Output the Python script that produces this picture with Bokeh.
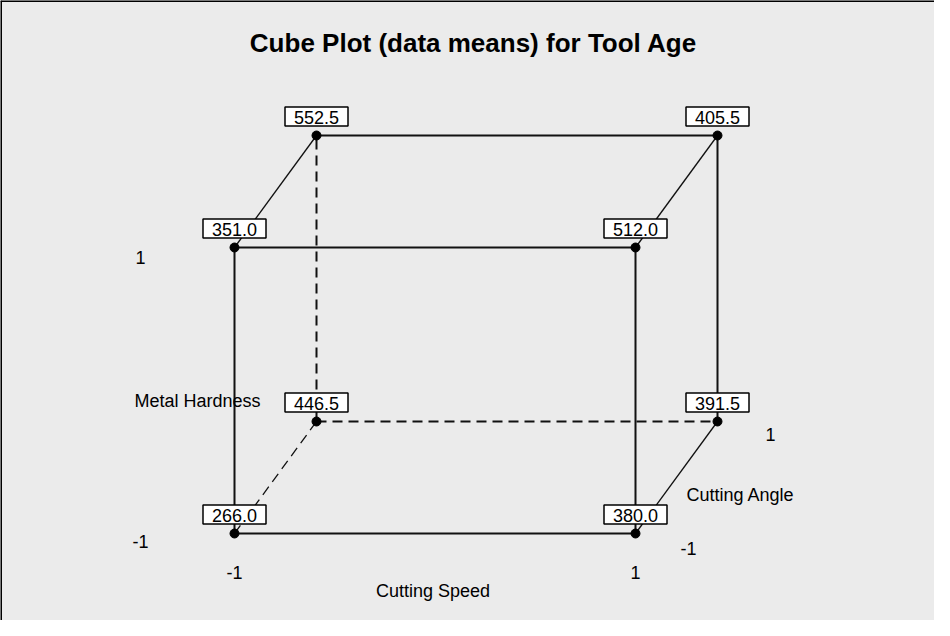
from bokeh.plotting import figure
from bokeh.models import Range1d, Span, Label, ColumnDataSource
from bokeh.core.properties import value
from bokeh.embed import file_html
from bokeh.resources import INLINE

# ---- data ----
title_text = "Cube Plot (data means) for Tool Age"
factor_speed = "Cutting Speed"
factor_angle = "Cutting Angle"
factor_hardness = "Metal Hardness"
levels = [-1, 1]
level_labels = ["-1", "1"]

speed = [-1, 1, -1, 1, -1, 1, -1, 1]
angle = [-1, -1, 1, 1, -1, -1, 1, 1]
hardness = [-1, -1, -1, -1, 1, 1, 1, 1]
means = [266.0, 380.0, 446.5, 391.5, 351.0, 512.0, 552.5, 405.5]

# ---- oblique projection (layout) ----
PX_X = 200.5   # screen px per projected x unit
PX_Y = 143.0   # screen px per projected y unit
KX = 41 / PX_X
KY = 56 / PX_Y


def proj(s, a, h):
    return s + KX * a, h + KY * a


W, H = 934, 620
x0 = (8 - 483.5) / PX_X
x1 = (942 - 483.5) / PX_X
y1 = (342 - 8) / PX_Y
y0 = (342 - 628) / PX_Y

BG = "#ebebeb"
FONT_NAME = "Liberation Sans"
FONT = value(FONT_NAME)
FS = "18px"

p = figure(width=W, height=H, x_range=Range1d(x0, x1), y_range=Range1d(y0, y1),
           output_backend="svg", toolbar_location=None, min_border=0,
           background_fill_color=BG, border_fill_color=BG)
p.axis.visible = False
p.grid.visible = False
p.outline_line_color = None

# ---- edges ----
hidden = (-1, 1, -1)
pts = list(zip(speed, angle, hardness))
for i in range(len(pts)):
    for j in range(i + 1, len(pts)):
        a_, b_ = pts[i], pts[j]
        diff = sum(1 for u, v in zip(a_, b_) if u != v)
        if diff != 1:
            continue
        xa, ya = proj(*a_)
        xb, yb = proj(*b_)
        depth_edge = a_[1] != b_[1]
        dashed = hidden in (a_, b_)
        p.line([xa, xb], [ya, yb], line_color="#111111",
               line_width=1.3 if depth_edge else 2,
               line_dash="10 6" if dashed else "solid")

px, py = zip(*[proj(s, a, h) for s, a, h in pts])
box_dy = 19 / PX_Y  # label box sits above its corner
src = ColumnDataSource(dict(x=list(px), y=list(py),
                            by=[v + box_dy for v in py],
                            lab=["%.1f" % m for m in means]))
p.scatter("x", "y", source=src, size=9, color="black")
p.rect("x", "by", width=63, height=19, width_units="screen", height_units="screen",
       source=src, fill_color="white", line_color="black", line_width=1.5)
p.text("x", "by", text="lab", source=src, text_font=FONT, text_font_size=FS,
       text_align="center", text_baseline="middle", y_offset=1,
       text_color="black")

# ---- factor labels ----
hx, _ = proj(-1, -1, 0)
for lv, lt in zip(levels, level_labels):
    _, hy = proj(-1, -1, lv)
    p.text([hx], [hy], text=[lt], text_font=FONT, text_font_size=FS,
           text_align="center", text_baseline="middle",
           x_offset=-94, y_offset=10 if lv == 1 else 8)
_, hy0 = proj(-1, -1, 0)
p.text([hx], [hy0], text=[factor_hardness], text_font=FONT, text_font_size=FS,
       text_align="left", text_baseline="middle", x_offset=-100, y_offset=10)

for lv, lt in zip(levels, level_labels):
    sx, sy = proj(lv, -1, -1)
    p.text([sx], [sy], text=[lt], text_font=FONT, text_font_size=FS,
           text_align="center", text_baseline="middle", y_offset=39)
sx, sy = proj(0, -1, -1)
p.text([sx], [sy], text=[factor_speed], text_font=FONT, text_font_size=FS,
       text_align="center", text_baseline="middle", x_offset=-2, y_offset=57)

for lv, lt in zip(levels, level_labels):
    ax, ay = proj(1, lv, -1)
    p.text([ax], [ay], text=[lt], text_font=FONT, text_font_size=FS,
           text_align="center", text_baseline="middle", x_offset=53,
           y_offset=15 if lv == -1 else 13)
ax, ay = proj(1, 0, -1)
p.text([ax], [ay], text=[factor_angle], text_font=FONT, text_font_size=FS,
       text_align="left", text_baseline="middle", x_offset=10, y_offset=17)

# ---- title ----
p.add_layout(Label(x=473, y=H - 42, x_units="screen", y_units="screen",
                   text=title_text, text_font=FONT_NAME, text_font_size="26px",
                   text_font_style="bold", text_align="center",
                   text_baseline="middle", text_color="black"))

# ---- frame edges (top, left) ----
p.add_layout(Span(location=x0, dimension="height", line_color="black", line_width=3))
p.add_layout(Span(location=y1, dimension="width", line_color="black", line_width=3))

open("out.html", "w").write(file_html(p, INLINE))
